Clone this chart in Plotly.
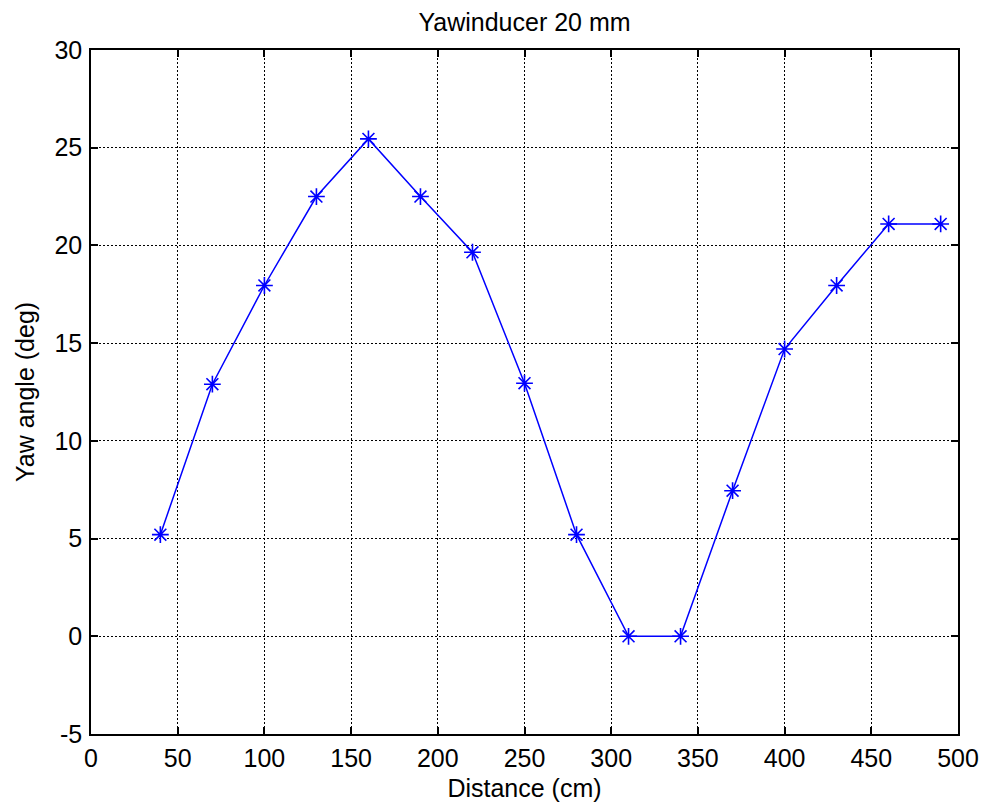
import plotly.graph_objects as go

distance_cm = [40, 70, 100, 130, 160, 190, 220, 250, 280, 310, 340, 370, 400, 430, 460, 490]
yaw_deg = [5.2, 12.9, 17.95, 22.5, 25.45, 22.5, 19.65, 12.95, 5.2, 0.0, 0.0, 7.45, 14.7, 17.95, 21.1, 21.1]
x_ticks = [0, 50, 100, 150, 200, 250, 300, 350, 400, 450, 500]
y_ticks = [-5, 0, 5, 10, 15, 20, 25, 30]
y_tick_text = ["-5", "0", "5", "10", "15", "20", "25", "30"]

FONT = "Liberation Sans, Arial"
FS = 25

fig = go.Figure()
fig.add_trace(go.Scatter(
    x=distance_cm, y=yaw_deg, mode="lines+markers",
    line=dict(color="#0000ff", width=1.5),
    marker=dict(symbol="asterisk-open", size=14, color="#0000ff",
                line=dict(color="#0000ff", width=1.6)),
    showlegend=False,
))

axis_common = dict(
    showgrid=True, gridcolor="black", griddash="2px,2px", gridwidth=1,
    showline=True, linecolor="black", linewidth=1.5, mirror="ticks",
    ticks="inside", ticklen=7, tickcolor="black", tickwidth=1.5,
    zeroline=False, automargin=False,
    tickfont=dict(family=FONT, size=FS, color="black"),
)

fig.update_xaxes(range=[0, 500], tickvals=x_ticks, ticklabelstandoff=1,
                 title=dict(text="Distance (cm)", font=dict(family=FONT, size=FS, color="black"), standoff=9),
                 **axis_common)
fig.update_yaxes(range=[-5, 30], tickvals=y_ticks, ticktext=y_tick_text, ticklabelstandoff=2,
                 title=dict(text="Yaw angle (deg)", font=dict(family=FONT, size=FS, color="black"), standoff=13),
                 **axis_common)

fig.update_layout(
    width=983, height=805,
    margin=dict(l=91, r=25, t=50, b=71, autoexpand=False),
    paper_bgcolor="white", plot_bgcolor="white",
    title=dict(text="Yawinducer 20 mm", x=0.5, xref="paper", xanchor="center",
               y=1 - 22 / 805, yanchor="middle",
               font=dict(family=FONT, size=FS, color="black")),
)

fig.write_html("out.html")
